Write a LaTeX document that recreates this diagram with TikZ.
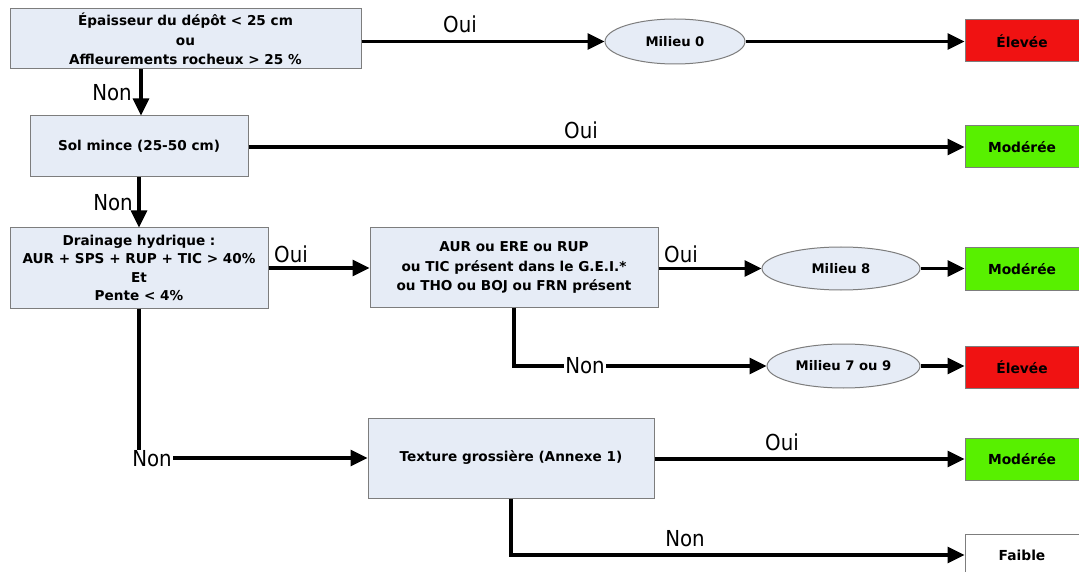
\documentclass[tikz,border=0pt]{standalone}
\usepackage{fontspec}
\setmainfont{DejaVu Sans}
\usetikzlibrary{arrows.meta,shapes.geometric}
\definecolor{boxfill}{RGB}{230,236,246}
\definecolor{edgegray}{RGB}{125,125,125}
\definecolor{hired}{RGB}{240,18,18}
\definecolor{modgreen}{RGB}{88,240,0}
\newcommand\lbltext[1]{\scalebox{0.9}[1]{#1}}
\tikzset{
  cond/.style={draw=edgegray, fill=boxfill, line width=1pt, inner sep=0pt,
    align=center, font=\bfseries\fontsize{13.6}{19.5}\selectfont},
  milieu/.style={ellipse, draw=edgegray, fill=boxfill, line width=1pt, inner sep=0pt,
    font=\bfseries\fontsize{13.2}{15}\selectfont},
  result/.style={draw=edgegray, line width=1pt, inner sep=0pt,
    minimum width=114pt, minimum height=42pt, font=\bfseries\fontsize{13.8}{15}\selectfont},
  flow/.style={line width=3.3pt, -{Triangle[length=17pt,width=16pt]}},
  lbl/.style={inner sep=1pt, font=\fontsize{22}{24}\selectfont}
}
\begin{document}
\begin{tikzpicture}[x=1pt,y=-1pt]
\useasboundingbox[fill=white] (0,0) rectangle (1079,572);

% condition boxes
\node[cond, minimum width=351pt, minimum height=60pt] (c1) at (185.5,39)
  {Épaisseur du dépôt < 25 cm\\ou\\Affleurements rocheux > 25 \%};
\node[cond, minimum width=218pt, minimum height=61pt] (c2) at (139,146.5)
  {Sol mince (25-50 cm)};
\node[cond, minimum width=258pt, minimum height=80pt, font=\bfseries\fontsize{13.6}{18.5}\selectfont] (c3) at (139,268)
  {Drainage hydrique :\\AUR + SPS + RUP + TIC > 40\%\\Et\\Pente < 4\%};
\node[cond, minimum width=288pt, minimum height=79pt] (c4) at (514,267.5)
  {AUR ou ERE ou RUP\\ou TIC présent dans le G.E.I.*\\ou THO ou BOJ ou FRN présent};
\node[cond, minimum width=286pt, minimum height=80pt] (c5) at (511,458)
  {Texture grossière (Annexe 1)};

% site types
\node[milieu, minimum width=140pt, minimum height=45pt] (m0) at (675,41.5) {Milieu 0};
\node[milieu, minimum width=158pt, minimum height=43pt] (m8) at (841,268.5) {Milieu 8};
\node[milieu, minimum width=153pt, minimum height=44pt] (m79) at (843.5,366) {Milieu 7 ou 9};

% results
\node[result, fill=hired] (r1) at (1022,41) {Élevée};
\node[result, fill=modgreen] (r2) at (1022,147) {Modérée};
\node[result, fill=modgreen] (r3) at (1022,269) {Modérée};
\node[result, fill=hired] (r4) at (1022,367) {Élevée};
\node[result, fill=modgreen] (r5) at (1022,459) {Modérée};
\node[result, fill=white] (r6) at (1022,555) {Faible};

% connectors
\draw[flow] (c1.east |- m0.west) -- (m0.west);
\draw[flow] (m0.east) -- (m0.east -| r1.west);
\draw[flow] ([xshift=2pt]c2.north |- c1.south) -- ([xshift=2pt]c2.north);
\draw[flow] (c2.east |- r2.west) -- (r2.west);
\draw[flow] (c2.south) -- (c3.north);
\draw[flow] (c3.east) -- (c3.east -| c4.west);
\draw[flow] (c4.east |- m8.west) -- (m8.west);
\draw[flow] (m8.east) -- (m8.east -| r3.west);
\draw[flow] (c4.south) |- (m79.west);
\draw[flow] (m79.east) -- (m79.east -| r4.west);
\draw[flow] (c3.south) |- (c5.west);
\draw[flow] (c5.east |- r5.west) -- (r5.west);
\draw[flow] (c5.south) |- (r6.west);

% branch labels
\node[lbl] (l1) at (460,24) {\lbltext{Oui}};
\node[lbl] (l2) at (112,93) {\lbltext{Non}};
\node[lbl] (l3) at (581,130) {\lbltext{Oui}};
\node[lbl] (l4) at (113,203) {\lbltext{Non}};
\node[lbl] (l5) at (291,254) {\lbltext{Oui}};
\node[lbl] (l6) at (681,254) {\lbltext{Oui}};
\node[lbl, fill=white] (l7) at (585,366) {\lbltext{Non}};
\node[lbl, fill=white] (l8) at (152,459) {\lbltext{Non}};
\node[lbl] (l9) at (782,442) {\lbltext{Oui}};
\node[lbl] (l10) at (685,539) {\lbltext{Non}};
\end{tikzpicture}
\end{document}
